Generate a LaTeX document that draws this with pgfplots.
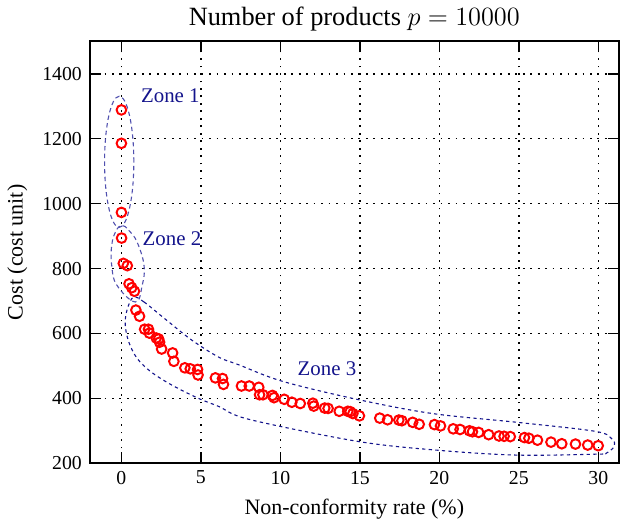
\documentclass[border=0pt]{standalone}
\usepackage{fontspec}
\setmainfont{Liberation Serif}
\usepackage{pgfplots}
\pgfplotsset{compat=1.18}
\definecolor{zonenavy}{RGB}{20,20,140}
\definecolor{zoneblue}{RGB}{80,80,175}
\begin{document}
\begin{tikzpicture}
\begin{axis}[
 scale only axis, width=241pt, height=192pt,
 xmin=-2, xmax=31.3, ymin=200, ymax=1500,
 xtick={0,5,...,30}, ytick={200,400,...,1400},
 grid=major,
 major grid style={black, line width=0.6pt, dash pattern=on 0.8pt off 2.6pt},
 axis line style={line width=0.9pt},
 major tick length=5pt,
 tick style={black, line width=0.6pt},
 tick label style={font=\fontsize{9}{10}\selectfont},
 /pgf/number format/assume math mode=true,
 /pgf/number format/1000 sep={},
 title={Number of products $p = 10000$},
 title style={font=\fontsize{12}{14}\selectfont, yshift=-5pt},
 xlabel={Non-conformity rate (\%)},
 ylabel={Cost (cost unit)},
 label style={font=\fontsize{10}{12}\selectfont},
]
% zone annotations
\draw[zoneblue, line width=0.5pt, dash pattern=on 2pt off 1.5pt] (axis cs:-0.14,1129) ellipse [x radius=0.92, y radius=202];
\draw[zoneblue, line width=0.5pt, dash pattern=on 2pt off 1.5pt] plot[smooth cycle, tension=0.7] coordinates {
 (0.03,933) (0.46,918) (0.99,881) (1.42,810) (1.31,749) (0.88,697)
 (-0.29,749) (-0.61,810) (-0.61,872) (-0.35,915)};
\draw[zonenavy, line width=0.5pt, dash pattern=on 1.5pt off 1.5pt] plot[smooth cycle, tension=0.55] coordinates {
 (0.75,712) (1.42,697) (2.71,646) (4.41,580) (6.12,527) (7.40,503) (10.16,452) (14.90,396)
 (19.58,353) (24.90,326) (29.84,298) (30.87,274) (31.0,252) (30.5,231) (29.97,228)
 (24.90,225) (19.90,240) (14.90,267) (8.04,335) (6.12,375) (4.84,400) (3.13,442)
 (1.85,482) (0.99,523) (0.46,574) (0.24,626) (0.35,672)};
\node[zonenavy, anchor=west, font=\fontsize{9.5}{11}\selectfont] at (axis cs:0.75,1332) {Zone 1};
\node[zonenavy, anchor=west, font=\fontsize{9.5}{11}\selectfont] at (axis cs:0.85,893) {Zone 2};
\node[zonenavy, anchor=west, font=\fontsize{9.5}{11}\selectfont] at (axis cs:10.6,492) {Zone 3};
\addplot[only marks, mark=o, mark size=2.2pt, red, mark options={line width=0.9pt}] table {
x y
0 1289
0 1186
0 973
0.01 894
0.12 816
0.37 809
0.48 753
0.65 741
0.82 730
0.91 672
1.14 653
1.46 613
1.70 613
1.76 601
2.19 586
2.34 583
2.40 573
2.53 552
3.22 540
3.30 514
3.99 494
4.33 491
4.79 489
4.82 472
5.91 463
6.36 461
6.42 443
7.55 438
8.04 438
8.64 434
8.69 411
8.90 411
9.50 409
9.60 402
10.24 397
10.72 388
11.25 384
12.04 385
12.10 376
12.79 370
13.00 369
13.70 360
14.24 360
14.39 359
14.56 353
14.97 346
16.25 339
16.74 334
17.45 333
17.64 331
18.32 326
18.73 320
19.69 319
20.07 315
20.87 306
21.30 304
21.89 300
22.08 297
22.47 295
23.10 288
23.75 284
24.07 283
24.46 282
25.35 279
25.63 277
26.17 271
27.02 265
27.70 260
28.56 259
29.33 256
29.99 254
};
\end{axis}
\end{tikzpicture}
\end{document}
